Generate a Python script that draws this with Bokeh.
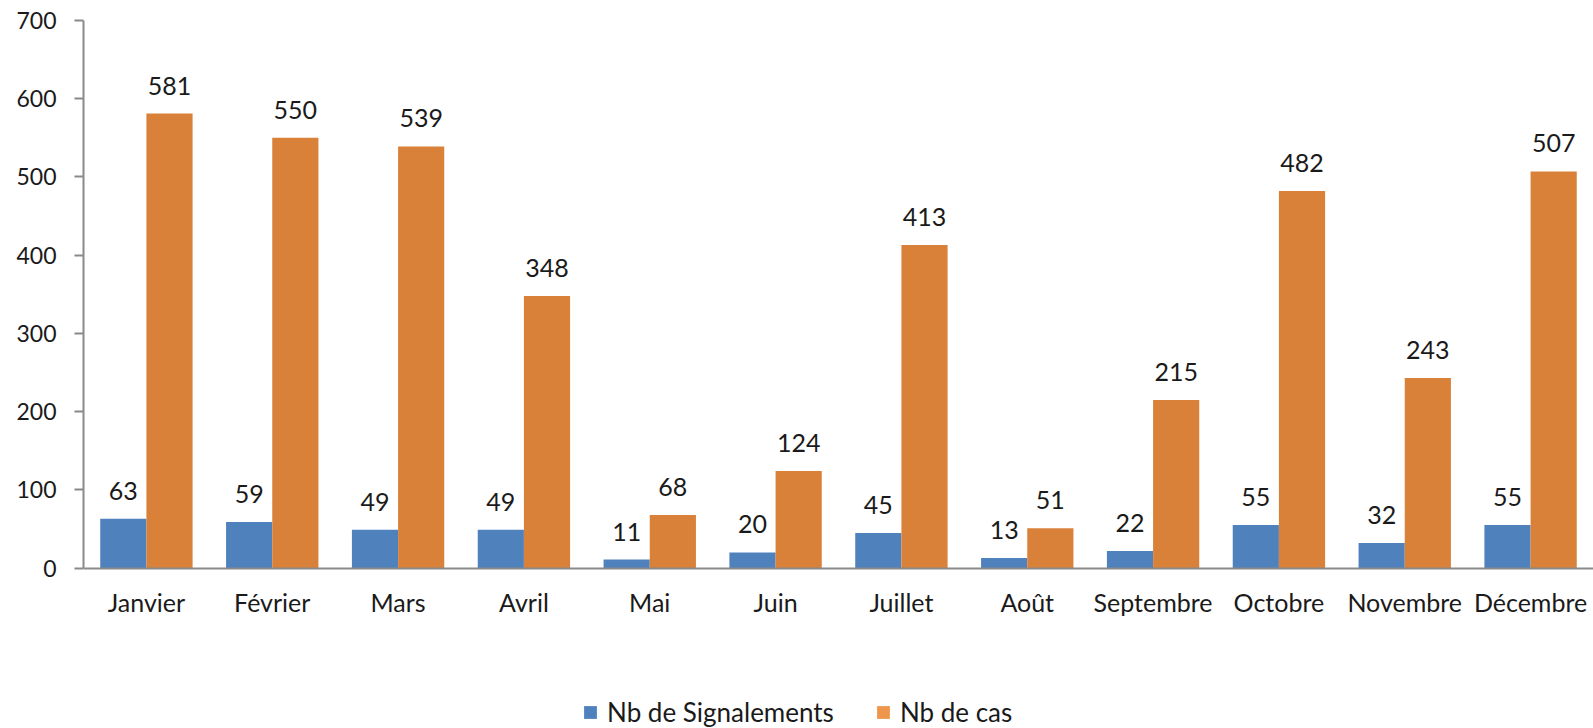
from bokeh.plotting import figure
from bokeh.models import ColumnDataSource, LabelSet, Legend, LegendItem
from bokeh.core.properties import value
from bokeh.transform import dodge
from bokeh.embed import file_html
from bokeh.resources import INLINE

months = ["Janvier", "Février", "Mars", "Avril", "Mai", "Juin", "Juillet",
          "Août", "Septembre", "Octobre", "Novembre", "Décembre"]
signalements = [63, 59, 49, 49, 11, 20, 45, 13, 22, 55, 32, 55]
cas = [581, 550, 539, 348, 68, 124, 413, 51, 215, 482, 243, 507]
y_ticks = [0, 100, 200, 300, 400, 500, 600, 700]
series_names = ["Nb de Signalements", "Nb de cas"]

BLUE = "#4F81BD"
ORANGE = "#DA8139"
ORANGE_LEG = "#EE974C"
FONT = "Lato"
TXT = "#1a1a1a"
AXIS = "#8a8a8a"

src = ColumnDataSource(dict(
    month=months, sig=signalements, cas=cas,
    sig_txt=[str(v) for v in signalements], cas_txt=[str(v) for v in cas],
))

p = figure(x_range=months, y_range=(-205, 700), width=1593, height=728,
           output_backend="svg", toolbar_location=None,
           min_border_left=83, min_border_right=0, min_border_top=20,
           min_border_bottom=0)

W = 0.367
r1 = p.vbar(x=dodge("month", -W / 2, range=p.x_range), top="sig", bottom=0,
            width=W, source=src, fill_color=BLUE, line_color=None)
r2 = p.vbar(x=dodge("month", W / 2, range=p.x_range), top="cas", bottom=0,
            width=W, source=src, fill_color=ORANGE, line_color=None)

# legend proxies (legend swatches are slightly lighter in the original);
# zero-height bars, so nothing visible is drawn in the plot itself
proxy = ColumnDataSource(dict(month=[months[0]], zero=[0]))
l1 = p.vbar(x="month", top="zero", bottom="zero", width=0, source=proxy,
            fill_color=BLUE, line_color=None)
l2 = p.vbar(x="month", top="zero", bottom="zero", width=0, source=proxy,
            fill_color=ORANGE_LEG, line_color=None)

for xoff, fld, txt in [(-W / 2, "sig", "sig_txt"), (W / 2, "cas", "cas_txt")]:
    ls = LabelSet(x=dodge("month", xoff, range=p.x_range), y=fld, text=txt,
                  source=src, y_offset=19, text_align="center",
                  text_baseline="alphabetic", text_font=value(FONT),
                  text_font_size="25px", text_color=TXT)
    p.add_layout(ls)

p.xgrid.grid_line_color = None
p.ygrid.grid_line_color = None
p.outline_line_color = None

for ax in (p.xaxis, p.yaxis):
    ax.axis_line_color = AXIS
    ax.axis_line_width = 2
    ax.major_label_text_font = FONT
    ax.major_label_text_color = TXT
    ax.minor_tick_line_color = None

p.xaxis.fixed_location = 0
p.xaxis.major_tick_line_color = None
p.xaxis.major_tick_out = 0
p.xaxis.major_tick_in = 0
p.xaxis.major_label_standoff = 19
p.xaxis.major_label_text_font_size = "25px"

p.yaxis.ticker = y_ticks
p.yaxis.bounds = (0, 700)
p.yaxis.major_tick_line_color = AXIS
p.yaxis.major_tick_line_width = 2
p.yaxis.major_tick_out = 9
p.yaxis.major_tick_in = 0
p.yaxis.major_label_standoff = 18
p.yaxis.major_label_text_font_size = "23px"

legend = Legend(items=[LegendItem(label=series_names[0], renderers=[l1], index=0),
                       LegendItem(label=series_names[1], renderers=[l2], index=0)],
                orientation="horizontal", location=(499, 0),
                glyph_width=16, glyph_height=16, label_standoff=9,
                spacing=41, padding=0, margin=0,
                border_line_color=None, background_fill_alpha=0,
                label_text_font=FONT, label_text_font_size="26px",
                label_text_color=TXT)
p.add_layout(legend, "center")

open("out.html", "w").write(file_html(p, INLINE))
